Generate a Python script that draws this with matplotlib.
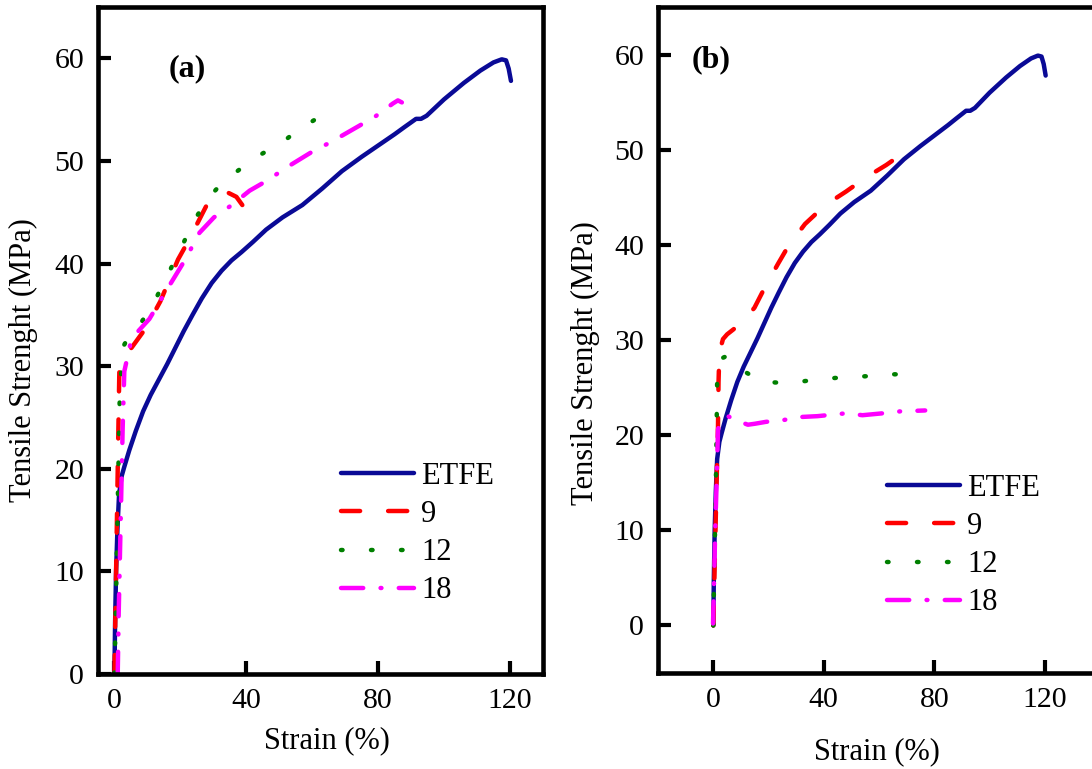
import matplotlib
matplotlib.use("Agg")
import matplotlib.pyplot as plt

plt.rcParams['font.family'] = ['Liberation Serif', 'DejaVu Serif']

# ETFE (same curve on both panels)
etfe_strain = [0, 0.2, 0.5, 0.9, 1.4, 2.2, 3.0, 4.5, 6.5, 8.7, 11, 13.5, 16, 18.5, 21, 23.7, 26.5,
               29.5, 32.5, 35.5, 38.5, 42, 46, 51, 57, 63, 69, 75, 80, 85, 88, 91.5, 93, 94.7,
               100, 106, 111, 115, 117.5, 118.8, 119.6, 120.3]
etfe_stress = [0, 5, 10, 14, 17.5, 19.3, 20.2, 21.8, 23.7, 25.6, 27.2, 28.7, 30.2, 31.8, 33.4, 35, 36.6,
               38.1, 39.3, 40.3, 41.1, 42.1, 43.3, 44.5, 45.7, 47.3, 49, 50.4, 51.5, 52.6, 53.3, 54.1, 54.1, 54.4,
               56, 57.6, 58.8, 59.6, 59.9, 59.8, 59, 57.8]

# panel (a)
a9_strain = [0, 0.3, 0.6, 0.9, 1.2, 1.5, 2.5, 5.2, 9.5, 13.9, 19.3, 22.6, 28, 32, 34.5, 37, 38.8]
a9_stress = [0, 6, 12, 18, 24, 29.8, 30.8, 31.8, 33.7, 36.3, 40.4, 42.3, 45.7, 46.8, 46.9, 46.5, 45.7]

a12_strain = [0, 0.4, 0.8, 1.2, 1.6, 2.5, 4.5, 7.4, 11.7, 15.5, 19.3, 24.2, 28.5, 33.4, 39.4, 44.8,
              50.8, 56.2, 62.2, 65.5, 68]
a12_stress = [0, 6, 13, 20, 27, 31.8, 33, 33.9, 36, 38.5, 40.9, 44.2, 46.4, 48.1, 49.5, 50.7,
              51.8, 53.1, 54.3, 54.1, 53.5]

a18_strain = [1.0, 1.3, 1.7, 2.1, 2.5, 3.0, 5.2, 10.6, 16, 21.5, 25.8, 30.2, 35.6, 41, 46.4, 51.9,
              59.5, 66, 72.5, 79, 84.5, 86, 87.2]
a18_stress = [0, 6, 12, 18, 24, 29.5, 32.7, 34.6, 37.5, 40.4, 43, 44.5, 45.7, 47.1, 48.1, 49.3,
              50.8, 51.9, 53.1, 54.3, 55.6, 55.9, 55.7]

# panel (b)
b9_strain = [0, 0.4, 0.8, 1.2, 1.7, 1.9, 2.2, 3.5, 5, 10.7, 14.9, 18.6, 23.4, 27.2, 33.2, 40.6, 48, 55.3, 62.6, 67.5]
b9_stress = [0, 5, 10, 15, 21, 25.6, 28.7, 30.1, 30.6, 31.9, 33.4, 35.5, 38, 39.9, 42.2, 44.2, 45.6, 47.1, 48.4, 49.4]

b12_strain = [0, 0.3, 0.7, 1.1, 1.4, 2.5, 4.7, 7.5, 11.2, 17.9, 25.6, 30.8, 38.9, 48, 55.7, 63.8, 71.2, 72]
b12_stress = [0, 5, 11, 18, 26, 28.0, 28.3, 27.6, 26.7, 25.6, 25.5, 25.6, 25.9, 26.1, 26.2, 26.4, 26.4, 26.3]

b18_strain = [-0.1, 0.3, 0.7, 1.2, 1.7, 2.5, 5.3, 8, 12.5, 15, 19, 25.6, 30.8, 37.7, 48, 54, 61.3, 67.5, 76.7]
b18_stress = [0.2, 5, 10, 15, 20.6, 21.5, 22, 21.6, 21.1, 21.2, 21.4, 21.6, 21.9, 22, 22.3, 22.1, 22.3, 22.5, 22.6]

labels = ['ETFE', '9', '12', '18']
colors = ['#0A0A96', '#FF0000', '#008000', '#FF00FF']
dash_styles = [None, (4.3, 6.3), (0.35, 6.4), (5.0, 3.9, 0.2, 3.9)]

fig = plt.figure(figsize=(10.92, 7.69), dpi=100)
ax1 = fig.add_axes([0.0897, 0.1235, 0.4075, 0.8674])
ax2 = fig.add_axes([0.6026, 0.1248, 0.4048, 0.866])


def draw(ax, series):
    for (x, y), lab, c, d in zip(series, labels, colors, dash_styles):
        if d is None:
            ax.plot(x, y, color=c, lw=3.2, label=lab, solid_capstyle='round', solid_joinstyle='round')
        else:
            ax.plot(x, y, color=c, lw=3.2, label=lab, dashes=d, dash_capstyle='round', dash_joinstyle='round')
    for s in ax.spines.values():
        s.set_linewidth(3.3)
    ax.tick_params(direction='in', length=9.5, width=3, labelsize=21.5, pad=10,
                   top=False, right=False)
    ax.set_xticks([0, 40, 80, 120])
    ax.set_xlabel('Strain (%)', fontsize=22)
    ax.set_ylabel('Tensile Strenght (MPa)', fontsize=22)


draw(ax1, [(etfe_strain, etfe_stress), (a9_strain, a9_stress),
           (a12_strain, a12_stress), (a18_strain, a18_stress)])
draw(ax2, [(etfe_strain, etfe_stress), (b9_strain, b9_stress),
           (b12_strain, b12_stress), (b18_strain, b18_stress)])

ax1.set_xlim(-5, 130)
ax1.set_ylim(0, 65)
ax1.set_yticks([0, 10, 20, 30, 40, 50, 60])
ax2.set_xlim(-20, 140)
ax2.set_ylim(-5, 65)
ax2.set_yticks([0, 10, 20, 30, 40, 50, 60])

ax1.yaxis.set_label_coords(-0.135, 0.471)
ax1.xaxis.set_label_coords(0.514, -0.078)
ax2.yaxis.set_label_coords(-0.131, 0.465)
ax2.xaxis.set_label_coords(0.495, -0.097)

ax1.text(22, 59, '(a)', fontsize=23, fontweight='bold', ha='center', va='center')
ax2.text(-0.7, 59.5, '(b)', fontsize=23, fontweight='bold', ha='center', va='center')

for ax, anchor in [(ax1, (0.546, 0.318)), (ax2, (0.518, 0.299))]:
    ax.legend(loc='upper left', bbox_to_anchor=anchor, frameon=False, fontsize=22,
              borderpad=0, borderaxespad=0, handlelength=2.39, handletextpad=0.23,
              labelspacing=0.3)

fig.savefig('out.png', dpi=100)
